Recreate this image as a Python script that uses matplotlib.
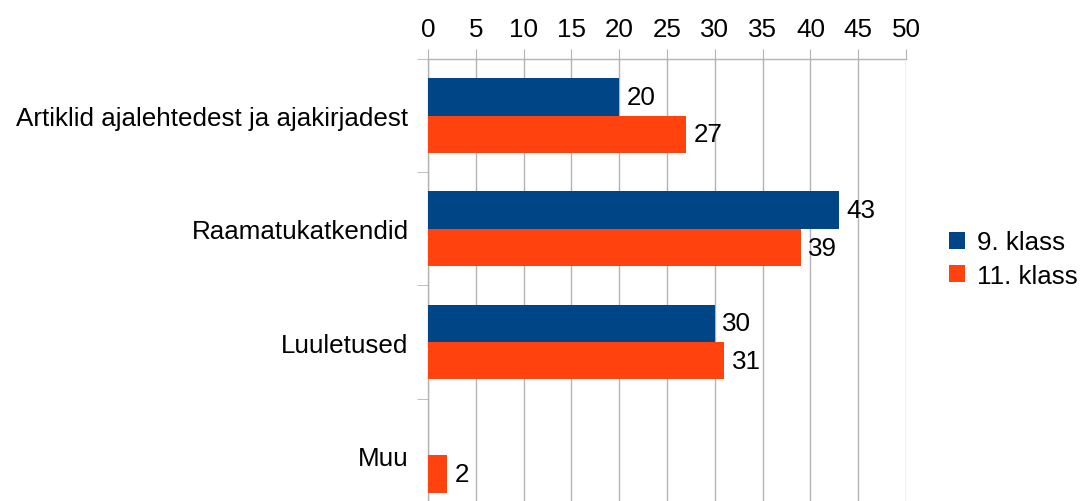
import numpy as np
import matplotlib.pyplot as plt

categories = ["Artiklid ajalehtedest ja ajakirjadest", "Raamatukatkendid", "Luuletused", "Muu"]
klass9 = [20, 43, 30, 0]
klass11 = [27, 39, 31, 2]
series_names = ["9. klass", "11. klass"]
xticks = list(range(0, 55, 5))

blue = "#004586"
orange = "#ff420e"
grid = "#b3b3b3"

plt.rcParams['font.family'] = ['Liberation Sans', 'DejaVu Sans']
fs = 18.7

fig = plt.figure(figsize=(10.87, 5.02), dpi=100)
ax = fig.add_axes([0.3937, -0.0219, 0.4398, 0.9024])

y = np.arange(len(categories))
h = 0.33
b1 = ax.barh(y - h / 2, klass9, height=h, color=blue, label=series_names[0], zorder=3)
b2 = ax.barh(y + h / 2, klass11, height=h, color=orange, label=series_names[1], zorder=3)

for bars, vals in ((b1, klass9), (b2, klass11)):
    for bar, v in zip(bars, vals):
        if v == 0:
            continue
        ax.annotate(str(v), (bar.get_width(), bar.get_y() + bar.get_height() / 2),
                    xytext=(5.5, 0), textcoords="offset points", va="center", ha="left",
                    fontsize=fs, zorder=4)

ax.set_xlim(0, 50)
ax.set_ylim(len(categories) - 0.5, -0.5)
ax.xaxis.tick_top()
ax.set_xticks(xticks)
ax.tick_params(axis="x", length=7.5, color=grid, labelsize=fs, pad=5.5)
ax.grid(axis="x", color=grid, linewidth=1, zorder=0)

ax.set_yticks(y)
ax.set_yticklabels(categories)
ax.set_yticks(np.arange(-0.5, len(categories)), minor=True)
ax.tick_params(axis="y", which="major", length=0, labelsize=fs, pad=14)
ax.tick_params(axis="y", which="minor", length=8, color=grid)

for s in ("right", "bottom"):
    ax.spines[s].set_visible(False)
for s in ("left", "top"):
    ax.spines[s].set_color(grid)
    ax.spines[s].set_linewidth(1)

fig.legend(handles=[b1, b2], labels=series_names, loc="center left",
           bbox_to_anchor=(0.852, 0.482), frameon=False, fontsize=fs,
           handlelength=0.6, handleheight=0.6, handletextpad=0.45, labelspacing=0.35)

fig.savefig("out.png", dpi=100)
